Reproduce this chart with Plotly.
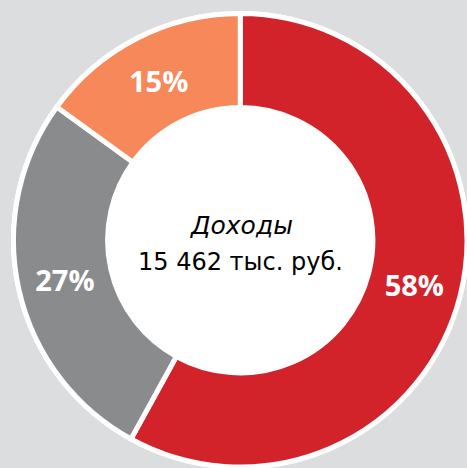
import plotly.graph_objects as go

categories = ["Доходы A", "Доходы B", "Доходы C"]
values = [58, 27, 15]
colors = ["#d2232b", "#8a8b8d", "#f68859"]
center_title = "Доходы"
center_value = "15 462 тыс. руб."

W, H = 467, 468
dom = dict(x=[13.5 / W, 1.0], y=[0.0, 1 - 12.5 / H])

fig = go.Figure()
# white disc underneath (fills the hole and gives the outer white rim)
fig.add_trace(go.Pie(
    labels=["total"], values=[sum(values)],
    marker=dict(colors=["white"], line=dict(color="white", width=5)),
    textinfo="none", hoverinfo="skip", sort=False, domain=dom,
))
fig.add_trace(go.Pie(
    labels=categories,
    values=values,
    sort=False,
    direction="clockwise",
    rotation=0,
    hole=0.585,
    marker=dict(colors=colors, line=dict(color="white", width=5)),
    texttemplate="%{percent:.0%}",
    textposition="inside",
    insidetextorientation="horizontal",
    textfont=dict(family="Open Sans", size=29, color="white", weight="bold"),
    hoverinfo="skip",
    domain=dom,
))

fig.add_annotation(
    x=241.5 / W, y=1 - 225 / H, xref="paper", yref="paper",
    text="<i>" + center_title + "</i>", showarrow=False,
    font=dict(family="DejaVu Sans", size=25, color="black"),
)
fig.add_annotation(
    x=240.5 / W, y=1 - 262 / H, xref="paper", yref="paper",
    text=center_value, showarrow=False,
    font=dict(family="DejaVu Sans", size=24, color="black"),
)

fig.update_layout(
    width=W, height=H,
    margin=dict(l=0, r=0, t=0, b=0),
    paper_bgcolor="#dcdddf",
    plot_bgcolor="#dcdddf",
    showlegend=False,
)

fig.write_html(
    "out.html",
    config={"displayModeBar": False},
    post_script="document.body.style.margin='0';document.body.style.overflow='hidden';"
                "document.body.style.background='#dcdddf';",
)
